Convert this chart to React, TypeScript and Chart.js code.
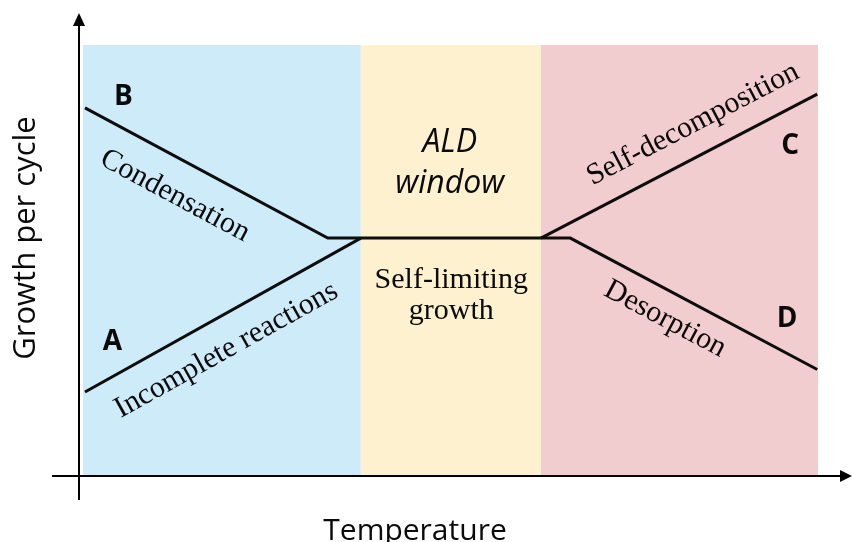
import React, { useEffect, useRef } from "react";
import { Chart, registerables } from "chart.js";

Chart.register(...registerables);

// ---- data (temperature 0..100, growth per cycle 0..100, arbitrary units) ----
const regionEdges = [0, 37.8, 62.3, 100];
const regionNames = ["low", "window", "high"];

const lineB_x = [0.27, 33.3, 62.3];
const lineB_y = [85.4, 55.2, 55.2];
const lineA_x = [0.27, 37.8];
const lineA_y = [19.5, 55.2];
const lineC_x = [62.3, 99.9];
const lineC_y = [55.2, 88.6];
const lineD_x = [62.3, 66.3, 99.9];
const lineD_y = [55.2, 55.2, 24.7];

const letterTexts = ["B", "A", "C", "D"];
const letterX = [5.5, 4.0, 96.2, 95.8];
const letterY = [86.1, 29.2, 74.7, 34.6];

const windowTitle = ["ALD", "window"];
const windowTitleY = [75.2, 65.7];
const windowSub = ["Self-limiting", "growth"];
const windowSubY = [43.6, 36.4];
const windowCenterX = 49.9;

const slopeTexts = ["Condensation", "Incomplete reactions", "Self-decomposition", "Desorption"];
const slopeX = [12.5, 19.5, 83.0, 79.2];
const slopeY = [65.0, 29.2, 81.6, 36.4];

const xTitle = "Temperature";
const yTitle = "Growth per cycle";

// ---- styles ----
const regionColors = ["#cdebf9", "#fdf1cf", "#f2cdcf"];

const toPts = (xs: number[], ys: number[]) => xs.map((x, i) => ({ x, y: ys[i] }));

export default function App() {
  const ref = useRef<HTMLCanvasElement | null>(null);

  useEffect(() => {
    document.body.style.margin = "0";
    const canvas = ref.current;
    if (!canvas) return;

    const lineDatasets = [
      toPts(lineB_x, lineB_y),
      toPts(lineA_x, lineA_y),
      toPts(lineC_x, lineC_y),
      toPts(lineD_x, lineD_y),
    ];
    // which dataset / segment each slope text follows
    const slopeRef = [
      [0, 0],
      [1, 0],
      [2, 0],
      [3, 1],
    ];

    const decor = {
      id: "decor",
      beforeDatasetsDraw(chart: any) {
        const { ctx, chartArea, scales } = chart;
        const xs = scales.x;
        ctx.save();
        for (let i = 0; i < regionNames.length; i++) {
          const x0 = xs.getPixelForValue(regionEdges[i]);
          const x1 = xs.getPixelForValue(regionEdges[i + 1]);
          ctx.fillStyle = regionColors[i];
          ctx.fillRect(x0, chartArea.top, x1 - x0, chartArea.bottom - chartArea.top);
        }
        ctx.restore();
      },
      afterDatasetsDraw(chart: any) {
        const { ctx, chartArea, scales } = chart;
        const xs = scales.x;
        const ys = scales.y;
        ctx.save();
        ctx.fillStyle = "#0a0a0a";
        ctx.textAlign = "center";

        // letters
        ctx.font = "bold 28px 'Open Sans'";
        ctx.textBaseline = "alphabetic";
        letterTexts.forEach((t, i) => {
          ctx.fillText(t, xs.getPixelForValue(letterX[i]), ys.getPixelForValue(letterY[i]));
        });

        // ALD window
        ctx.font = "italic 32px 'Open Sans'";
        windowTitle.forEach((t, i) => {
          ctx.fillText(t, xs.getPixelForValue(windowCenterX), ys.getPixelForValue(windowTitleY[i]));
        });
        ctx.font = "30px 'Liberation Serif'";
        windowSub.forEach((t, i) => {
          ctx.fillText(t, xs.getPixelForValue(windowCenterX + 0.2), ys.getPixelForValue(windowSubY[i]));
        });

        // slope texts
        ctx.textBaseline = "middle";
        slopeTexts.forEach((t, i) => {
          const [di, si] = slopeRef[i];
          const pts = lineDatasets[di];
          const p1 = pts[si];
          const p2 = pts[si + 1];
          const ang = Math.atan2(
            ys.getPixelForValue(p2.y) - ys.getPixelForValue(p1.y),
            xs.getPixelForValue(p2.x) - xs.getPixelForValue(p1.x)
          );
          ctx.save();
          ctx.translate(xs.getPixelForValue(slopeX[i]), ys.getPixelForValue(slopeY[i]));
          ctx.rotate(ang);
          ctx.fillText(t, 0, 0);
          ctx.restore();
        });

        // axes with arrows
        const ax = chartArea.left - 4;
        const ay = chartArea.bottom;
        ctx.strokeStyle = "#000";
        ctx.fillStyle = "#000";
        ctx.lineWidth = 2;
        ctx.beginPath();
        ctx.moveTo(ax, ay + 24);
        ctx.lineTo(ax, 22);
        ctx.moveTo(52, ay);
        ctx.lineTo(chart.width - 8, ay);
        ctx.stroke();
        ctx.beginPath();
        ctx.moveTo(ax, 13);
        ctx.lineTo(ax - 6, 26);
        ctx.lineTo(ax + 6, 26);
        ctx.closePath();
        ctx.fill();
        ctx.beginPath();
        ctx.moveTo(chart.width, ay);
        ctx.lineTo(chart.width - 12, ay - 6);
        ctx.lineTo(chart.width - 12, ay + 6);
        ctx.closePath();
        ctx.fill();

        // axis titles
        ctx.fillStyle = "#0a0a0a";
        ctx.font = "30px 'Open Sans'";
        ctx.textAlign = "center";
        ctx.textBaseline = "alphabetic";
        ctx.fillText(xTitle, 415, 540);
        ctx.font = "31px 'Open Sans'";
        ctx.save();
        ctx.translate(35, 238);
        ctx.rotate(-Math.PI / 2);
        ctx.fillText(yTitle, 0, 0);
        ctx.restore();

        ctx.restore();
      },
    };

    const chart = new Chart(canvas, {
      type: "line",
      data: {
        datasets: lineDatasets.map((d, i) => ({
          label: ["B", "A", "C", "D"][i],
          data: d,
          borderColor: "#0d0d0d",
          borderWidth: 3,
          pointRadius: 0,
          fill: false,
          tension: 0,
        })),
      },
      options: {
        responsive: false,
        animation: false,
        layout: { padding: { left: 83, right: 34, top: 45, bottom: 66 } },
        scales: {
          x: { type: "linear", min: 0, max: 100, display: false },
          y: { type: "linear", min: 0, max: 100, display: false },
        },
        plugins: { legend: { display: false }, tooltip: { enabled: false } },
      },
      plugins: [decor],
    });

    return () => chart.destroy();
  }, []);

  return <canvas ref={ref} width={852} height={542} style={{ display: "block" }} />;
}
